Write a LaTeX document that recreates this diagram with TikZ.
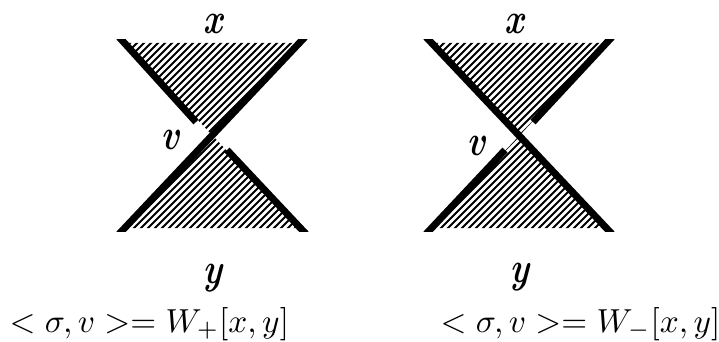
\documentclass[tikz,border=0pt]{standalone}
\usepackage{amsmath}
\usetikzlibrary{calc}
\tikzset{
  thickedge/.style={line width=7pt,line cap=butt,black},
  hatchline/.style={line width=1.8pt,black},
  boldlabel/.style={inner sep=0pt,xscale=3.2,yscale=4.3,xslant=0.1},
  captiontext/.style={inner sep=0pt,anchor=base west,scale=3.33}
}
\begin{document}
\begin{tikzpicture}[x=1pt,y=-1pt]
\useasboundingbox (0,0) rectangle (719,342);
% left figure
\coordinate (ltl) at (125,43);
\coordinate (ltr) at (299,43);
\coordinate (lbl) at (125,228);
\coordinate (lbr) at (300,228);
\coordinate (lc) at (212,135);
\coordinate (lg1) at (196,122);
\coordinate (lg2) at (227,150);
\begin{scope}
  \clip (ltl) -- (ltr) -- (lc) -- cycle;
  \foreach \k in {-42,...,14}{\draw[hatchline] ($(lbl)+(\k*7,100)$) -- ++(400,-400);}
\end{scope}
\begin{scope}
  \clip (lbl) -- (lbr) -- (lc) -- cycle;
  \foreach \k in {-42,...,14}{\draw[hatchline] ($(lbl)+(\k*7,100)$) -- ++(400,-400);}
\end{scope}
\begin{scope}
  \clip (0,40) rectangle (330,231);
  \draw[thickedge] ($(lbl)+(-6,6)$) -- ($(ltr)+(6,-6)$);
  \draw[thickedge] ($(ltl)+(-6,-6)$) -- (lg1);
  \draw[thickedge] (lg2) -- ($(lbr)+(6,6)$);
\end{scope}
% right figure
\coordinate (rtl) at (432,43);
\coordinate (rtr) at (606,43);
\coordinate (rbl) at (432,228);
\coordinate (rbr) at (606,228);
\coordinate (rc) at (519,136);
\coordinate (rg1) at (533,122);
\coordinate (rg2) at (505,150);
\begin{scope}
  \clip (rtl) -- (rtr) -- (rc) -- cycle;
  \foreach \k in {-42,...,14}{\draw[hatchline] ($(rbl)+(\k*7,100)$) -- ++(400,-400);}
\end{scope}
\begin{scope}
  \clip (rbl) -- (rbr) -- (rc) -- cycle;
  \foreach \k in {-42,...,14}{\draw[hatchline] ($(rbl)+(\k*7,100)$) -- ++(400,-400);}
\end{scope}
\begin{scope}
  \clip (400,40) rectangle (640,231);
  \draw[thickedge] ($(rtl)+(-6,-6)$) -- ($(rbr)+(6,6)$);
  \draw[thickedge] ($(rtr)+(6,-6)$) -- (rg1);
  \draw[thickedge] ($(rbl)+(-6,6)$) -- (rg2);
\end{scope}
% labels
\node[boldlabel] (lx) at (215,24) {$\boldsymbol{x}$};
\node[boldlabel] (lv) at (172,140) {$\boldsymbol{v}$};
\node[boldlabel] (ly) at (214,278) {$\boldsymbol{y}$};
\node[boldlabel] (rx) at (516,24) {$\boldsymbol{x}$};
\node[boldlabel] (rv) at (478,146) {$\boldsymbol{v}$};
\node[boldlabel] (ry) at (521,277) {$\boldsymbol{y}$};
\node[captiontext] (lcap) at (9,332) {$<\sigma,v>=W_+[x,y]$};
\node[captiontext] (rcap) at (440,332) {$<\sigma,v>=W_-[x,y]$};
\end{tikzpicture}
\end{document}
